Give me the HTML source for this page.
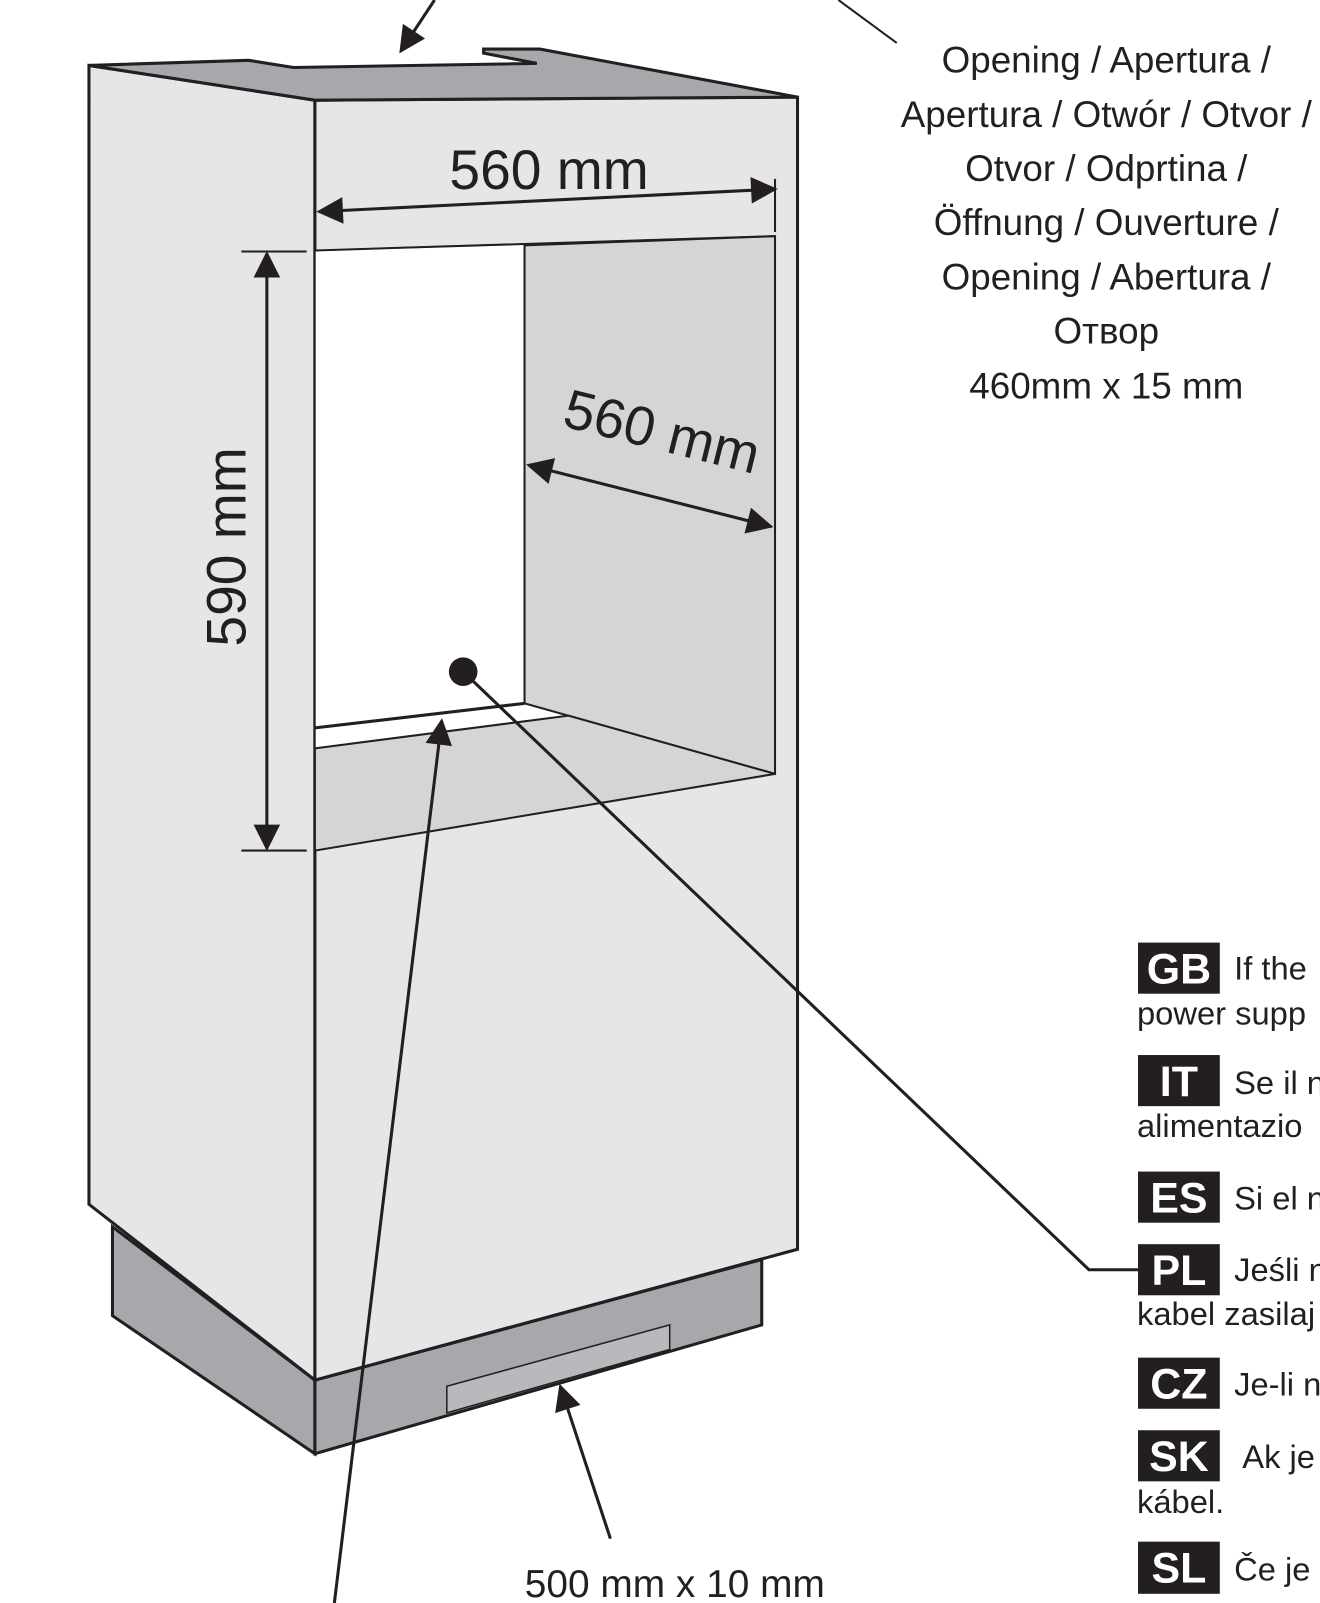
<!DOCTYPE html>
<html><head><meta charset="utf-8"><style>
html,body{margin:0;padding:0;background:#fff;overflow:hidden}
svg{display:block}
text{font-family:"Liberation Sans",sans-serif;fill:#231f20}
</style></head><body>
<svg width="1320" height="1603" viewBox="0 0 1291 1568" preserveAspectRatio="none" xmlns="http://www.w3.org/2000/svg">
<defs>
<marker id="ah2" viewBox="0 0 10 10" refX="9" refY="5" markerWidth="30" markerHeight="26" orient="auto-start-reverse" markerUnits="userSpaceOnUse"><path d="M0,0L10,5L0,10z" fill="#231f20"/></marker>
</defs>
<g stroke="#231f20" stroke-width="3" stroke-linejoin="miter">
<polygon points="110,1200 308,1350 308,1422 110,1287" fill="#a7a8ab"/>
<polygon points="308,1350 745,1232 745,1296 308,1422" fill="#a7a8ab"/>
<polygon points="437,1356 655,1296 655,1320 437,1382" fill="#b8b9bc" stroke-width="1.5"/>
<polygon points="87,64 308,98 308,1350 87,1178" fill="#e6e6e8"/>
<polygon points="308,98 780,95 780,1222 308,1350" fill="#e6e6e8"/>
<polygon points="87,64 243,59 287,66 525,62 473,52 473,48 528,48 780,95 308,98" fill="#a7a8ab"/>
<polygon points="308,245 758,231 758,757 308,832" fill="#fff" stroke-width="1.5"/>
<polygon points="513,240 758,231 758,757 513,688" fill="#d5d5d7" stroke-width="2"/>
<polygon points="308,732 556,700 758,757 308,832" fill="#d5d5d7" stroke-width="2"/>
<line x1="308" y1="712" x2="513" y2="688" stroke-width="3"/>
<line x1="308" y1="245" x2="758" y2="231" stroke-width="2"/>
</g>
<g stroke="#231f20" stroke-width="3" fill="none">
<line x1="312" y1="207" x2="758" y2="185" marker-start="url(#ah2)" marker-end="url(#ah2)"/>
<line x1="758" y1="175" x2="758" y2="227" stroke-width="2"/>
<line x1="261" y1="248" x2="261" y2="830" marker-start="url(#ah2)" marker-end="url(#ah2)"/>
<line x1="236" y1="246" x2="300" y2="246" stroke-width="2"/>
<line x1="236" y1="832" x2="300" y2="832" stroke-width="2"/>
<line x1="517" y1="455" x2="754" y2="515" marker-start="url(#ah2)" marker-end="url(#ah2)"/>
<polyline points="453,657 1065,1242 1113,1242"/>
<line x1="327" y1="1568" x2="432" y2="705" marker-end="url(#ah2)"/>
<line x1="597" y1="1505" x2="548" y2="1356" marker-end="url(#ah2)"/>
<line x1="425" y1="0" x2="392" y2="50" marker-end="url(#ah2)"/>
<line x1="820" y1="0" x2="877" y2="42" stroke-width="2"/>
</g>
<circle cx="453" cy="657" r="14" fill="#231f20"/>
<text x="537" y="185" font-size="54" text-anchor="middle">560 mm</text>
<text transform="translate(240,535) rotate(-90)" font-size="54" text-anchor="middle">590 mm</text>
<text transform="translate(643,440) rotate(14)" font-size="54" text-anchor="middle">560 mm</text>
<text x="660" y="1562" font-size="38" text-anchor="middle">500 mm x 10 mm</text>
<g font-size="36" text-anchor="middle">
<text x="1082" y="71">Opening / Apertura /</text>
<text x="1082" y="124">Apertura / Otwór / Otvor /</text>
<text x="1082" y="177">Otvor / Odprtina /</text>
<text x="1082" y="230">Öffnung / Ouverture /</text>
<text x="1082" y="283">Opening / Abertura /</text>
<text x="1082" y="336">Отвор</text>
<text x="1082" y="390">460mm x 15 mm</text>
</g>
<g font-size="32">
<rect x="1113" y="922" width="80" height="50" fill="#231f20"/><text x="1153" y="962" style="fill:#fff" font-weight="bold" font-size="42" text-anchor="middle">GB</text>
<text x="1207" y="958">If the</text><text x="1112" y="1002">power supp</text>
<rect x="1113" y="1032" width="80" height="50" fill="#231f20"/><text x="1153" y="1072" style="fill:#fff" font-weight="bold" font-size="42" text-anchor="middle">IT</text>
<text x="1207" y="1070">Se il n</text><text x="1112" y="1112">alimentazio</text>
<rect x="1113" y="1146" width="80" height="50" fill="#231f20"/><text x="1153" y="1186" style="fill:#fff" font-weight="bold" font-size="42" text-anchor="middle">ES</text>
<text x="1207" y="1183">Si el n</text>
<rect x="1113" y="1217" width="80" height="50" fill="#231f20"/><text x="1153" y="1257" style="fill:#fff" font-weight="bold" font-size="42" text-anchor="middle">PL</text>
<text x="1207" y="1253">Jeśli n</text><text x="1112" y="1296">kabel zasilaj</text>
<rect x="1113" y="1328" width="80" height="50" fill="#231f20"/><text x="1153" y="1368" style="fill:#fff" font-weight="bold" font-size="42" text-anchor="middle">CZ</text>
<text x="1207" y="1365">Je-li n</text>
<rect x="1113" y="1399" width="80" height="50" fill="#231f20"/><text x="1153" y="1439" style="fill:#fff" font-weight="bold" font-size="42" text-anchor="middle">SK</text>
<text x="1215" y="1436">Ak je</text><text x="1112" y="1480">kábel.</text>
<rect x="1113" y="1508" width="80" height="51" fill="#231f20"/><text x="1153" y="1548" style="fill:#fff" font-weight="bold" font-size="42" text-anchor="middle">SL</text>
<text x="1207" y="1546">Če je</text>
</g>
</svg>
</body></html>
